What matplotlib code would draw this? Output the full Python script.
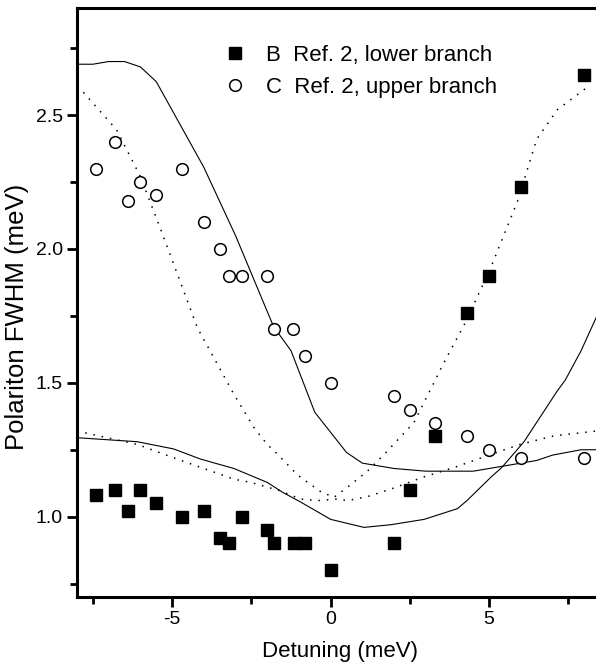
import numpy as np
import matplotlib
matplotlib.use("Agg")
from matplotlib import pyplot as plt

plt.rcParams['font.family'] = ['Liberation Sans', 'DejaVu Sans']
plt.rcParams['axes.unicode_minus'] = False

# measured points: B = lower branch (squares), C = upper branch (circles)
lower_x = [-7.4, -6.8, -6.4, -6.0, -5.5, -4.7, -4.0, -3.5, -3.2, -2.8, -2.0, -1.8,
           -1.15, -0.8, 0.0, 2.0, 2.5, 3.3, 4.3, 5.0, 6.0, 8.0]
lower_y = [1.08, 1.10, 1.02, 1.10, 1.05, 1.00, 1.02, 0.92, 0.90, 1.00, 0.95, 0.90,
           0.90, 0.90, 0.80, 0.90, 1.10, 1.30, 1.76, 1.90, 2.23, 2.65]

upper_x = [-7.4, -6.8, -6.4, -6.0, -5.5, -4.7, -4.0, -3.5, -3.2, -2.8, -2.0, -1.8,
           -1.2, -0.8, 0.0, 2.0, 2.5, 3.3, 4.3, 5.0, 6.0, 8.0]
upper_y = [2.30, 2.40, 2.18, 2.25, 2.20, 2.30, 2.10, 2.00, 1.90, 1.90, 1.90, 1.70,
           1.70, 1.60, 1.50, 1.45, 1.40, 1.35, 1.30, 1.25, 1.22, 1.22]

# model curves
solid_up_x = [-8.0, -7.5, -7.0, -6.5, -6.0, -5.5, -4.0, -3.0, -1.8, -1.25, -0.5, -0.3,
              0.5, 1.0, 2.0, 3.0, 4.5, 5.5, 6.5, 7.0, 7.9, 8.4]
solid_up_y = [2.69, 2.69, 2.70, 2.70, 2.68, 2.625, 2.305, 2.05, 1.71, 1.62, 1.39, 1.36,
              1.24, 1.20, 1.18, 1.17, 1.17, 1.19, 1.21, 1.23, 1.25, 1.25]

solid_lo_x = [-8.0, -6.1, -4.95, -4.1, -3.05, -2.0, -1.5, -0.95, 0.0, 1.05, 1.9, 2.95,
              4.0, 4.3, 5.05, 5.4, 6.1, 7.15, 7.4, 7.9, 8.4]
solid_lo_y = [1.295, 1.28, 1.253, 1.215, 1.18, 1.128, 1.09, 1.055, 0.99, 0.96, 0.97, 0.99,
              1.03, 1.06, 1.147, 1.184, 1.28, 1.47, 1.51, 1.62, 1.75]

dot_up_x = [-7.8, -6.75, -6.0, -5.35, -4.2, -3.05, -2.42, -2.0, -1.68, -1.16, -0.95, -0.32,
            0.1, 0.53, 1.16, 1.7, 2.63, 3.55, 4.25, 5.05, 5.9, 6.5, 7.15, 8.05]
dot_up_y = [2.585, 2.445, 2.27, 2.07, 1.705, 1.457, 1.333, 1.27, 1.234, 1.17, 1.147, 1.094,
            1.072, 1.11, 1.17, 1.234, 1.352, 1.57, 1.725, 1.93, 2.18, 2.41, 2.52, 2.60]

dot_lo_x = [-8.0, -6.1, -4.95, -3.05, -2.52, -1.6, -0.95, -0.42, 0.2, 0.53, 1.16, 1.9,
            2.9, 3.9, 4.95, 6.0, 7.05, 8.4]
dot_lo_y = [1.32, 1.27, 1.22, 1.14, 1.128, 1.097, 1.066, 1.06, 1.066, 1.06, 1.075, 1.103,
            1.147, 1.184, 1.228, 1.271, 1.302, 1.32]

fig = plt.figure(figsize=(5.96, 6.65), dpi=100)
ax = fig.add_axes([77/596, 68/665, 519/596, 589/665])

ax.plot(solid_up_x, solid_up_y, color="black", lw=0.8)
ax.plot(solid_lo_x, solid_lo_y, color="black", lw=0.8)
ax.plot(dot_up_x, dot_up_y, color="black", lw=1.1, linestyle=(0, (1, 4.5)))
ax.plot(dot_lo_x, dot_lo_y, color="black", lw=1.1, linestyle=(0, (1, 4.5)))

ax.plot(lower_x, lower_y, linestyle="none", marker="s", ms=8.4, color="black",
        label="B  Ref. 2, lower branch")
ax.plot(upper_x, upper_y, linestyle="none", marker="o", ms=8.4, mfc="white",
        mec="black", mew=1.1, label="C  Ref. 2, upper branch")

ax.set_xlim(-8.0, 8.37)
ax.set_ylim(0.7, 2.9)
ax.set_xticks([-5, 0, 5])
ax.set_xticks([-7.5, -2.5, 2.5, 7.5], minor=True)
ax.set_yticks([1.0, 1.5, 2.0, 2.5])
ax.set_yticklabels(["1.0", "1.5", "2.0", "2.5"])
ax.set_yticks([0.75, 1.25, 1.75, 2.25, 2.75], minor=True)

for side in ["left", "top", "bottom"]:
    ax.spines[side].set_linewidth(2.2)
ax.spines["right"].set_visible(False)
ax.tick_params(which="major", direction="out", length=7, width=2, labelsize=14, pad=3)
ax.tick_params(which="minor", direction="out", length=5, width=2)

ax.set_xlabel("Detuning (meV)", fontsize=16)
ax.set_ylabel("Polariton FWHM (meV)", fontsize=18.5)
ax.xaxis.label.set_va("center")
ax.yaxis.label.set_va("center")
ax.xaxis.set_label_coords(0.507, -0.092)
ax.yaxis.set_label_coords(-0.115, 0.475)

ax.legend(loc="upper left", bbox_to_anchor=(0.265, 0.952), frameon=False, fontsize=16,
          handlelength=1.0, handletextpad=0.9, labelspacing=0.49, borderaxespad=0)

fig.savefig("out.png", dpi=100)
